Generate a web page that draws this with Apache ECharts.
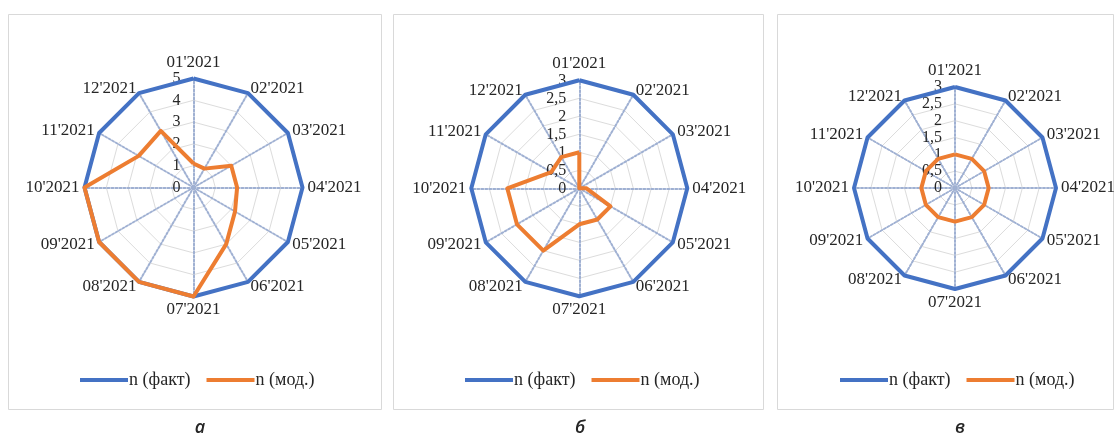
<!DOCTYPE html>
<html><head><meta charset="utf-8">
<script src="https://cdn.jsdelivr.net/npm/echarts@6/dist/echarts.min.js"></script>
<style>html,body{margin:0;padding:0;background:#fff;}#c{width:1120px;height:438px;}</style>
</head><body><div id="c"></div>
<script>
const months = ["01'2021","02'2021","03'2021","04'2021","05'2021","06'2021","07'2021","08'2021","09'2021","10'2021","11'2021","12'2021"];
const seriesNames = ['n (факт)', 'n (мод.)'];
const captions = ['а', 'б', 'в'];
// panel а
const factA = [5,5,5,5,5,5,5,5,5,5,5,5];
const modA  = [1.1,1.0,2.0,2.0,2.2,3.0,5.0,5.0,5.0,5.0,2.9,3.0];
const maxA = 5, stepsA = 5;
// panel б
const factB = [3,3,3,3,3,3,3,3,3,3,3,3];
const modB  = [1.0,0,0,0.2,1.0,1.0,1.0,2.0,2.0,2.0,0.9,1.0];
const maxB = 3, stepsB = 6;
// panel в
const factV = [3,3,3,3,3,3,3,3,3,3,3,3];
const modV  = [1,1,1,1,1,1,1,1,1,1,1,1];
const maxV = 3, stepsV = 6;

const BLUE = '#4472C4', ORANGE = '#ED7D31', TXT = '#262626';
// ECharts places indicators counter-clockwise; Excel goes clockwise
const order = [0,11,10,9,8,7,6,5,4,3,2,1];
const reorder = a => order.map(i => a[i]);

function makeRadar(center, radius, max, steps) {
  return {
    center: center, radius: radius, startAngle: 90, shape: 'polygon', splitNumber: steps,
    nameGap: 5,
    axisName: { color: TXT, fontFamily: 'Liberation Serif', fontSize: 17 },
    indicator: order.map((i, k) => ({
      name: months[i], min: 0, max: max,
      axisLabel: k === 0 ? {
        show: true, color: TXT, fontFamily: 'Liberation Serif', fontSize: 16, margin: 13,
        formatter: v => String(v).replace('.', ',')
      } : { show: false }
    })),
    axisLine: { lineStyle: { color: '#9fb0d2', type: [2, 2], width: 2 } },
    splitLine: { lineStyle: { color: '#dcdcdc', width: 1 } },
    splitArea: { show: false },
    axisTick: { show: false }
  };
}
function makeSeries(idx, fact, mod) {
  return {
    type: 'radar', radarIndex: idx, symbol: 'none', silent: true,
    data: [
      { name: seriesNames[0], value: reorder(fact), itemStyle: { color: BLUE },
        lineStyle: { color: BLUE, width: 4, join: 'round' } },
      { name: seriesNames[1], value: reorder(mod), itemStyle: { color: ORANGE },
        lineStyle: { color: ORANGE, width: 4, join: 'round' } }
    ]
  };
}
function makeLegend(left) {
  return {
    data: seriesNames, left: left, top: 366, icon: 'rect', itemWidth: 48, itemHeight: 4, itemGap: 16,
    selectedMode: false,
    textStyle: { fontFamily: 'Liberation Serif', fontSize: 18, color: TXT, padding: [0, 0, 0, -4] }
  };
}
const panels = [[8.5, 14.5, 373, 395], [393.5, 14.5, 370, 395], [777.5, 14.5, 336, 395]];
const capX = [200, 580, 960];

const chart = echarts.init(document.getElementById('c'), null, { renderer: 'canvas' });
chart.setOption({
  backgroundColor: '#fff',
  animation: false,
  graphic: panels.map(p => ({
    type: 'rect', z: -10, silent: true,
    shape: { x: p[0], y: p[1], width: p[2], height: p[3] },
    style: { fill: '#fff', stroke: '#d9d9d9', lineWidth: 1 }
  })).concat(captions.map((t, i) => ({
    type: 'text', x: capX[i], y: 428, silent: true,
    style: { text: t, textAlign: 'center', textVerticalAlign: 'middle',
      font: 'italic 600 18px "Open Sans"', fill: TXT }
  }))),
  legend: [makeLegend(75), makeLegend(460), makeLegend(835)],
  radar: [
    makeRadar([193.5, 187.5], 109, maxA, stepsA),
    makeRadar([579.3, 188.3], 108, maxB, stepsB),
    makeRadar([955, 188], 101, maxV, stepsV)
  ],
  series: [makeSeries(0, factA, modA), makeSeries(1, factB, modB), makeSeries(2, factV, modV)]
});
</script></body></html>
